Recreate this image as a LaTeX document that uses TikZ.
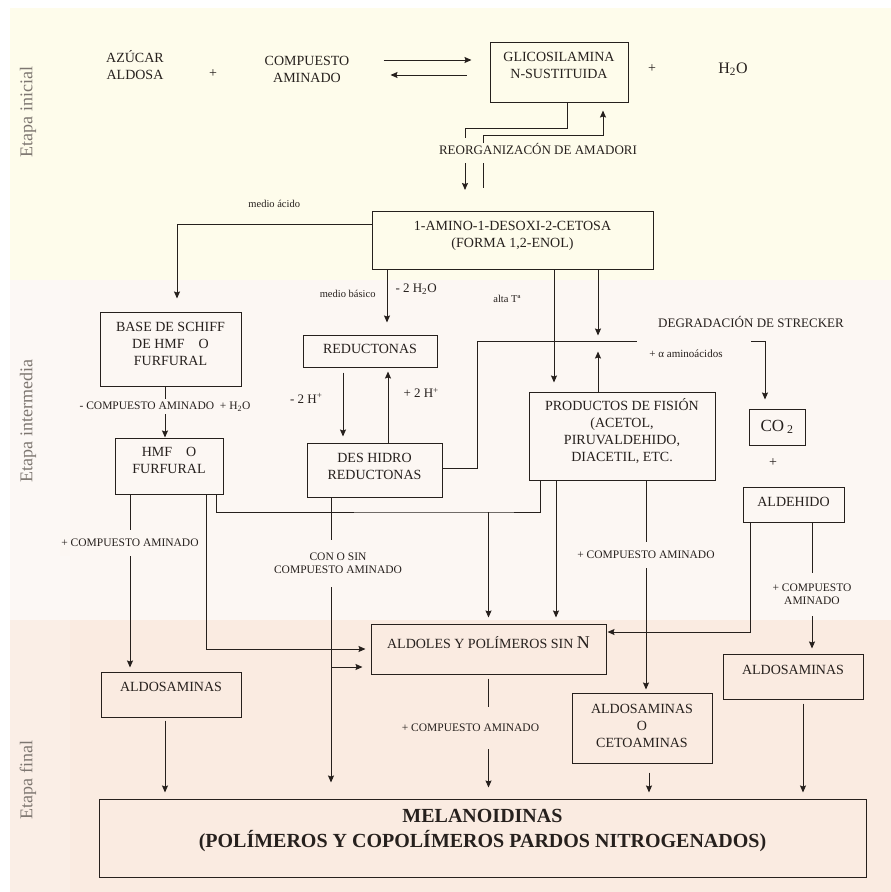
\documentclass[tikz,border=0pt]{standalone}
\usepackage{fontspec}
\setmainfont{Liberation Serif}
\usetikzlibrary{arrows,arrows.meta,positioning}
\definecolor{topband}{RGB}{254,252,235}
\definecolor{midband}{RGB}{252,247,243}
\definecolor{endband}{RGB}{250,235,225}
\definecolor{ink}{RGB}{38,32,29}
\definecolor{stagegray}{RGB}{125,118,112}

\begin{document}
\begin{tikzpicture}[x=1pt,y=-1pt,>={Stealth[length=7pt,width=6pt,inset=1pt]},line width=1pt,draw=ink,text=ink,
	box/.style={draw=ink,align=center,inner sep=2pt,font=\fontsize{14}{17}\selectfont},
	txt/.style={align=center,inner sep=1pt,font=\fontsize{14}{17}\selectfont},
	lbl/.style={align=center,inner sep=1pt,font=\fontsize{11.5}{13}\selectfont},
	note/.style={inner sep=1pt,font=\fontsize{10.5}{12}\selectfont},
	stage/.style={rotate=90,text=stagegray,font=\fontsize{18}{20}\selectfont}]
			\fill[topband] (10,8) rectangle (891,280);
			\fill[midband] (10,280) rectangle (891,620);
			\fill[endband] (10,620) rectangle (891,892);
			\fill[white,opacity=.18] (10,280) rectangle (70,892);
			\useasboundingbox (0,0) rectangle (891,892);
			\node[stage] (stageA) at (28,112) {Etapa inicial};
			\node[stage] (stageB) at (28,421) {Etapa intermedia};
			\node[stage] (stageC) at (28,780) {Etapa final};
			\node[txt] (sugar) at (135,65) {AZÚCAR\\ALDOSA};
			\node[txt] (plusA) at (213,74) {+};
			\node[txt,minimum width=90pt,inner sep=0pt] (amine) at (307,69) {COMPUESTO\\AMINADO};
			\node[box,minimum width=138pt,minimum height=60pt,text depth=14pt] (glyco) at (559,72) {GLICOSILAMINA\\N-SUSTITUIDA};
			\node[txt] (plusB) at (652,69) {+};
			\node[txt,font=\fontsize{16}{18}\selectfont] (water) at (733,69) {H\textsubscript{2}O};
			\node[lbl,font=\fontsize{13}{15}\selectfont] (amadori) at (538,149) {REORGANIZACÓN DE AMADORI};
			\node[box,minimum width=281pt,minimum height=58pt,text depth=11pt] (ketose) at (512.5,240) {1-AMINO-1-DESOXI-2-CETOSA\\(FORMA 1,2-ENOL)};
			\node[box,minimum width=141pt,minimum height=74pt,text depth=10pt] (schiff) at (170.5,349) {BASE DE SCHIFF\\DE HMF\quad O\\FURFURAL};
			\node[box,minimum width=108pt,minimum height=56pt,text depth=11pt] (hmf) at (169,466) {HMF\quad O\\FURFURAL};
			\node[box,minimum width=134pt,minimum height=32pt,text depth=4pt] (reduct) at (370,351) {REDUCTONAS};
			\node[box,minimum width=135pt,minimum height=54pt,text depth=8pt] (dehydro) at (374.5,470) {DES HIDRO\\REDUCTONAS};
			\node[box,minimum width=186pt,minimum height=88pt,text depth=12pt] (fission) at (622,436) {PRODUCTOS DE FISIÓN\\(ACETOL,\\PIRUVALDEHIDO,\\DIACETIL, ETC.};
			\node[lbl,font=\fontsize{13}{15}\selectfont] (strecker) at (751,322) {DEGRADACIÓN DE STRECKER};
			\node[note,font=\fontsize{11}{13}\selectfont] (aminoacid) at (686,354) {+ α aminoácidos};
			\node[box,minimum width=56pt,minimum height=36pt,font=\fontsize{17}{19}\selectfont] (co2) at (777,427) {CO\,\textsubscript{2}};
			\node[txt] (plusC) at (773,463) {+};
			\node[box,minimum width=101pt,minimum height=35pt,text depth=5pt] (aldehyde) at (793.5,504.5) {ALDEHIDO};
			\node[box,minimum width=235pt,minimum height=50pt,text depth=14pt] (aldols) at (488.5,649) {ALDOLES Y POLÍMEROS SIN {\fontsize{18}{18}\selectfont N}};
			\node[box,minimum width=140pt,minimum height=45pt,text depth=15pt] (aldoL) at (171,694.5) {ALDOSAMINAS};
			\node[box,minimum width=140pt,minimum height=70pt,text depth=5pt] (ketoam) at (642,728) {ALDOSAMINAS\\O\\CETOAMINAS};
			\node[box,minimum width=140pt,minimum height=45pt,text depth=13pt] (aldoR) at (793,676.5) {ALDOSAMINAS};
			\node[box,minimum width=767pt,minimum height=78pt,text depth=19pt,font=\bfseries\fontsize{20}{25}\selectfont] (melan) at (482.5,838) {MELANOIDINAS\\(POLÍMEROS Y COPOLÍMEROS PARDOS NITROGENADOS)};
			\coordinate (fwdS) at ([yshift=9pt]amine.east);
			\coordinate (backS) at ([yshift=-6pt]amine.east);
			\coordinate (amA) at (465,138);
			\coordinate (amB) at (465,163);
			\coordinate (amC) at (483,143);
			\coordinate (amD) at (483,163);
			\coordinate (streckA) at (637,341);
			\coordinate (streckB) at (751,341);
			\coordinate (junction) at (488.5,512);
			\coordinate (branch) at (331,667);
			\draw[->,shorten <=31pt,shorten >=18pt] (fwdS) -- (fwdS -| glyco.west);
			\draw[->,shorten <=23pt,shorten >=38pt] (backS -| glyco.west) -- (backS);
			\draw ([xshift=8pt]glyco.south) -- ++(0,26) -| (amA);
			\draw[->] (amB) -- ++(0,27);
			\draw (amD) -- ++(0,25);
			\draw[->,shorten >=8pt] (amC) |- ([xshift=44pt,yshift=-33pt]glyco.south) -- ([xshift=44pt]glyco.south);
			\draw[->,shorten >=13pt] ([yshift=16pt]ketose.west) -| node[note,pos=.25,above=15pt] (acid) {medio ácido} ([xshift=6.5pt]schiff.north);
			\draw[->] ([xshift=-5.5pt]schiff.south) -- node[lbl,fill=midband,pos=.39,inner ysep=3pt] (minusAm) {- COMPUESTO AMINADO\enspace+ H\textsubscript{2}O} ([xshift=-4pt]hmf.north);
			\draw[->,shorten >=4pt] ([xshift=-39pt]hmf.south) -- node[lbl,fill=midband,inner ysep=9pt,pos=.275] (plusAmA) {+ COMPUESTO AMINADO} ([xshift=-41pt]aldoL.north);
			\draw[->,shorten >=5pt] ([xshift=37pt]hmf.south) |- (aldols.west);
			\draw ([xshift=47pt]hmf.south) |- (junction) -| ([xshift=-82pt]fission.south);
			\draw[->,shorten >=6pt] (junction) -- (aldols.north);
			\draw[->,shorten >=6pt] ([xshift=-66pt]fission.south) -- ([xshift=67.5pt]aldols.north);
			\draw[->,shorten >=3pt] ([xshift=24pt]fission.south) -- node[lbl,fill=midband,inner ysep=9pt,pos=.35] (plusAmB) {+ COMPUESTO AMINADO} ([xshift=4pt]ketoam.north);
			\draw[->,shorten >=12pt] ([xshift=-125.5pt]ketose.south) -- node[note,pos=.38,left=10pt] (basic) {medio básico} node[lbl,font=\fontsize{13}{15}\selectfont,pos=.3,right=7pt] (lossW) {- 2 H\textsubscript{2}O} ([xshift=17pt]reduct.north);
			\draw[->,shorten <=5pt,shorten >=6pt] ([xshift=-27pt]reduct.south) -- node[lbl,font=\fontsize{13}{15}\selectfont,pos=.41,left=19pt] (lossH) {- 2 H\textsuperscript{+}} ([xshift=-31.5pt]dehydro.north);
			\draw[->,shorten >=4pt] ([xshift=13.5pt]dehydro.north) -- node[lbl,font=\fontsize{13}{15}\selectfont,pos=.66,right=14pt] (gainH) {+ 2 H\textsuperscript{+}} ([xshift=18pt]reduct.south);
			\draw ([yshift=2pt]dehydro.east) -- ++(35,0) |- (streckA);
			\draw[->,shorten >=9pt] (streckB) -| ([xshift=-12pt]co2.north);
			\draw[->,shorten >=9pt] ([xshift=41.5pt]ketose.south) -- node[note,pos=.24,left=32pt] (heat) {alta Tª} ([xshift=-68pt]fission.north);
			\draw[->] ([xshift=85.5pt]ketose.south) -- ++(0,66);
			\draw[->] ([xshift=-24pt]fission.north) -- ++(0,-40);
			\draw[->,shorten >=1pt] ([xshift=-43.5pt]aldehyde.south) |- ([yshift=17pt]aldols.east);
			\draw[->,shorten >=5pt] ([xshift=18.5pt]aldehyde.south) -- node[lbl,fill=midband,inner ysep=11pt,pos=.55] (plusAmC) {+ COMPUESTO\\AMINADO} ([xshift=19pt]aldoR.north);
			\draw[->,shorten >=16pt] ([xshift=-43.5pt]dehydro.south) -- node[lbl,fill=midband,inner ysep=13pt,pos=.22,xshift=7pt] (withAm) {CON O SIN\\COMPUESTO AMINADO} ([xshift=-151.5pt]melan.north);
			\draw[->,shorten >=8pt] (branch) -- (branch -| aldols.west);
			\draw[->,shorten <=4pt,shorten >=11pt] (aldols.south) -- node[lbl,fill=endband,inner ysep=17pt,pos=.43,xshift=-18pt] (plusAmD) {+ COMPUESTO AMINADO} (aldols.south |- melan.north);
			\draw[->,shorten <=3pt,shorten >=6pt] ([xshift=-6pt]aldoL.south) -- ([xshift=-317.5pt]melan.north);
			\draw[->,shorten <=9pt,shorten >=6pt] ([xshift=7pt]ketoam.south) -- ([xshift=166.5pt]melan.north);
			\draw[->,shorten <=4pt,shorten >=6pt] ([xshift=10pt]aldoR.south) -- ([xshift=320.5pt]melan.north);
		\end{tikzpicture}
\end{document}
